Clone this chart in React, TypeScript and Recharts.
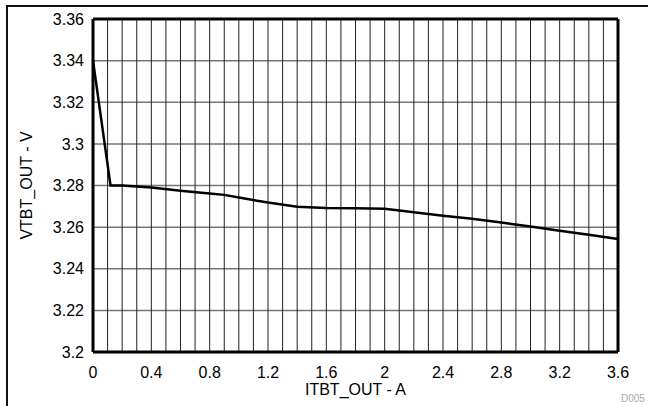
import { LineChart, Line, XAxis, YAxis, CartesianGrid, ReferenceLine } from "recharts";

// ITBT_OUT (A) vs VTBT_OUT (V)
const current = [0, 0.12, 0.2, 0.4, 0.6, 0.8, 0.9, 1.0, 1.2, 1.4, 1.6, 1.8, 2.0, 2.2, 2.4, 2.6, 2.8, 3.0, 3.2, 3.4, 3.6];
const voltage = [3.34, 3.28, 3.28, 3.279, 3.2775, 3.2762, 3.2755, 3.2742, 3.2718, 3.2698, 3.2692, 3.2691, 3.2688, 3.2672, 3.2655, 3.264, 3.2622, 3.2603, 3.2583, 3.2563, 3.2543];

const xTicks = [0, 0.4, 0.8, 1.2, 1.6, 2, 2.4, 2.8, 3.2, 3.6];
const xGrid = [0.1, 0.2, 0.3, 0.4, 0.5, 0.6, 0.7, 0.8, 0.9, 1, 1.1, 1.2, 1.3, 1.4, 1.5, 1.6, 1.7, 1.8, 1.9, 2, 2.1, 2.2, 2.3, 2.4, 2.5, 2.6, 2.7, 2.8, 2.9, 3, 3.1, 3.2, 3.3, 3.4, 3.5];
const yTicks = [3.2, 3.22, 3.24, 3.26, 3.28, 3.3, 3.32, 3.34, 3.36];

const data = current.map((a, i) => ({ a, v: voltage[i] }));

const FONT = "'Liberation Sans', Arial, sans-serif";
const tickStyle = { fill: "#000", fontSize: 16, fontFamily: FONT };
const frameLine = { stroke: "#000", strokeWidth: 3 };

export default function App() {
  return (
    <div style={{ position: "absolute", left: 0, top: 0, width: 653, height: 406, background: "#fff", overflow: "hidden" }}>
      {/* outer frame, top and left only */}
      <div
        style={{
          position: "absolute",
          left: 6,
          top: 5,
          width: 642,
          height: 410,
          borderTop: "2px solid #111",
          borderLeft: "2px solid #111",
          boxSizing: "border-box",
        }}
      />
      <LineChart
        width={653}
        height={406}
        data={data}
        margin={{ top: 18, right: 34, left: 0, bottom: 0 }}
        style={{ position: "absolute", left: 0, top: 0 }}
      >
        <CartesianGrid vertical={false} xAxisId="bottom" yAxisId="left" stroke="#777" strokeWidth={1.5} />
        {xGrid.map((x) => (
          <ReferenceLine key={x} x={x} xAxisId="bottom" yAxisId="left" stroke="#222" strokeWidth={1} />
        ))}
        <XAxis
          xAxisId="bottom"
          dataKey="a"
          type="number"
          domain={[0, 3.6]}
          ticks={xTicks}
          interval={0}
          height={54}
          axisLine={frameLine}
          tickLine={false}
          tickMargin={9}
          tick={tickStyle}
          label={{ value: "ITBT_OUT - A", position: "insideBottom", offset: 11, fill: "#000", fontSize: 16, fontFamily: FONT }}
        />
        <XAxis
          xAxisId="top"
          dataKey="a"
          type="number"
          orientation="top"
          domain={[0, 3.6]}
          height={1}
          axisLine={frameLine}
          tickLine={false}
          tick={false}
        />
        <YAxis
          yAxisId="left"
          type="number"
          domain={[3.2, 3.36]}
          ticks={yTicks}
          interval={0}
          width={93}
          axisLine={frameLine}
          tickLine={false}
          tickMargin={3}
          tick={tickStyle}
          label={{ value: "VTBT_OUT - V", angle: -90, position: "insideLeft", offset: 26, fill: "#000", fontSize: 16, fontFamily: FONT, style: { textAnchor: "middle" } }}
        />
        <YAxis
          yAxisId="right"
          type="number"
          orientation="right"
          domain={[3.2, 3.36]}
          width={1}
          axisLine={frameLine}
          tickLine={false}
          tick={false}
        />
        <Line
          xAxisId="bottom"
          yAxisId="left"
          dataKey="v"
          type="linear"
          stroke="#000"
          strokeWidth={2.5}
          dot={false}
          isAnimationActive={false}
        />
      </LineChart>
      <div
        style={{
          position: "absolute",
          left: 621,
          top: 393,
          fontFamily: FONT,
          fontSize: 10,
          color: "#aaa",
          whiteSpace: "nowrap",
        }}
      >
        D005
      </div>
    </div>
  );
}
